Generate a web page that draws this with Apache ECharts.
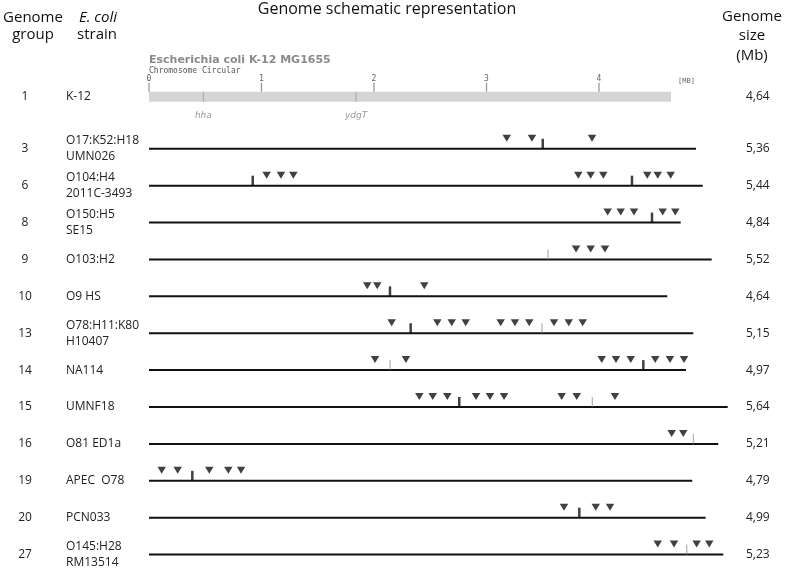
<!DOCTYPE html>
<html><head><meta charset="utf-8">
<script src="https://cdn.jsdelivr.net/npm/echarts@6/dist/echarts.min.js"></script>
<style>html,body{margin:0;padding:0;background:#fff}#c{width:787px;height:573px}</style>
</head><body><div id="c"></div><script>
// ---- data (positions in Mb on the K-12 scale) ----
const groups = ['1','3','6','8','9','10','13','14','15','16','19','20','27'];
const strains = ['K-12','O17:K52:H18\nUMN026','O104:H4\n2011C-3493','O150:H5\nSE15','O103:H2','O9 HS',
  'O78:H11:K80\nH10407','NA114','UMNF18','O81 ED1a','APEC  O78','PCN033','O145:H28\nRM13514'];
const genomeSizes = ['4,64','5,36','5,44','4,84','5,52','4,64','5,15','4,97','5,64','5,21','4,79','4,99','5,23'];
const k12Length = 4.64;
const k12Ticks = [0,1,2,3,4];
const k12Genes = ['hha','ydgT'];
const k12GenePos = [0.483, 1.840];
// schematic line length of each strain (rows after K-12)
const lineEnds = [4.862,4.922,4.726,5.002,4.607,4.838,4.773,5.144,5.060,4.829,4.948,5.105];
// inverted triangles per row
const triangles = [
  [3.180,3.404,3.938],
  [1.046,1.173,1.283,3.816,3.926,4.038,4.429,4.522,4.637],
  [4.077,4.193,4.311,4.566,4.678],
  [3.796,3.926,4.053],
  [1.940,2.029,2.447],
  [2.157,2.563,2.691,2.815,3.126,3.253,3.380,3.600,3.731,3.855],
  [2.009,2.284,4.024,4.151,4.282,4.500,4.631,4.756],
  [2.403,2.522,2.652,2.907,3.031,3.156,3.668,3.802,4.142],
  [4.646,4.749],
  [0.113,0.255,0.536,0.705,0.818],
  [3.689,3.971,4.098],
  [4.522,4.667,4.868,4.980]
];
// thick vertical marks per row
const majorMarks = [[3.500],[0.922,4.293],[4.471],[],[2.142],[2.326],[4.394],[2.758],[],[0.385],[3.825],[]];
// thin vertical marks per row
const minorMarks = [[],[],[],[3.547],[],[3.493],[2.142],[3.940],[4.838],[],[],[4.780]];

// ---- build ----
const FONT = '"Open Sans", "Noto Sans", sans-serif';
const MONO = '"DejaVu Sans Mono", "Liberation Mono", monospace';
const mainStrains = strains.slice(1);
const mainGroups = groups.slice(1);
const mainSizes = genomeSizes.slice(1);
function toPts(arr){ const out=[]; arr.forEach((r,i)=>r.forEach(x=>out.push([x,i]))); return out; }

const PX = 112.5;         // pixels per Mb (layout)
const LEFT = 149;
const MAIN_MAX = 5.2;
const K12_W = k12Length*PX;
const MAIN_W = MAIN_MAX*PX;
const MAIN_TOP = 130.35, ROW_H = 37.3;
const MAIN_H = ROW_H*mainStrains.length;

const catBase = {type:'category', inverse:true, axisLine:{show:false}, axisTick:{show:false}, splitLine:{show:false}};
const lbl = {fontFamily:FONT, fontSize:12, color:'#222'};

const option = {
  animation:false,
  backgroundColor:'#fff',
  grid:[
    {left:LEFT, top:91.7, width:K12_W, height:10},
    {left:LEFT, top:MAIN_TOP, width:MAIN_W, height:MAIN_H},
    {left:LEFT, top:91.7, width:K12_W, height:10},
    {left:LEFT, top:MAIN_TOP, width:MAIN_W, height:MAIN_H}
  ],
  xAxis:[
    {type:'value', gridIndex:0, position:'top', min:0, max:k12Length,
      axisLine:{show:false}, splitLine:{show:false}, axisTick:{show:false},
      axisLabel:{customValues:k12Ticks, margin:8.5, fontFamily:MONO, fontSize:8, color:'#666'},
      name:'[MB]', nameLocation:'end', nameGap:7,
      nameTextStyle:{fontFamily:MONO, fontSize:7, color:'#666', verticalAlign:'bottom', padding:[0,0,7,0]}},
    {type:'value', gridIndex:1, min:0, max:MAIN_MAX, show:false},
    {type:'value', gridIndex:2, show:false},
    {type:'value', gridIndex:3, show:false}
  ],
  yAxis:[
    Object.assign({}, catBase, {gridIndex:0, data:[strains[0]],
      axisLabel:Object.assign({align:'left', margin:LEFT-66}, lbl)}),
    Object.assign({}, catBase, {gridIndex:0, position:'right', data:[genomeSizes[0]],
      axisLabel:Object.assign({align:'left', margin:746-(LEFT+K12_W), padding:[3,0,0,0]}, lbl)}),
    Object.assign({}, catBase, {gridIndex:1, data:mainStrains,
      axisLabel:Object.assign({align:'left', margin:LEFT-66, lineHeight:16}, lbl)}),
    Object.assign({}, catBase, {gridIndex:1, position:'right', data:mainSizes,
      axisLabel:Object.assign({align:'left', margin:746-(LEFT+MAIN_W), padding:[5,0,0,0]}, lbl)}),
    Object.assign({}, catBase, {gridIndex:2, data:[groups[0]],
      axisLabel:Object.assign({align:'center', margin:LEFT-25}, lbl)}),
    Object.assign({}, catBase, {gridIndex:3, data:mainGroups,
      axisLabel:Object.assign({align:'center', margin:LEFT-25, padding:[0,0,6,0]}, lbl)})
  ],
  series:[
    {type:'bar', xAxisIndex:0, yAxisIndex:0, data:[k12Length], barWidth:10, silent:true,
      itemStyle:{color:'#d5d5d5'}},
    {type:'scatter', xAxisIndex:0, yAxisIndex:0, silent:true, clip:false, z:5,
      data:k12Ticks.map(v=>[v,0]),
      symbol:'rect', symbolSize:[1.3,9], symbolOffset:[0,-9.5], itemStyle:{color:'#808080'}},
    {type:'scatter', xAxisIndex:0, yAxisIndex:0, silent:true,
      data:k12GenePos.map((x,i)=>({name:k12Genes[i], value:[x,0]})),
      symbol:'rect', symbolSize:[1.2,10], itemStyle:{color:'#a5a5a5'},
      label:{show:true, position:'bottom', distance:9, formatter:p=>p.name,
        fontFamily:'"DejaVu Sans", sans-serif', fontStyle:'italic', fontSize:9, color:'#808080'}},
    {type:'bar', xAxisIndex:1, yAxisIndex:2, data:lineEnds, barWidth:2, silent:true,
      itemStyle:{color:'#111'}},
    {type:'scatter', xAxisIndex:1, yAxisIndex:2, data:toPts(triangles), silent:true,
      symbol:'triangle', symbolRotate:180, symbolSize:[8.5,7], symbolOffset:[0,-10.5],
      itemStyle:{color:'#111'}},
    {type:'scatter', xAxisIndex:1, yAxisIndex:2, data:toPts(majorMarks), silent:true,
      symbol:'rect', symbolSize:[2.5,10], symbolOffset:[0,-5], itemStyle:{color:'#111'}},
    {type:'scatter', xAxisIndex:1, yAxisIndex:2, data:toPts(minorMarks), silent:true,
      symbol:'rect', symbolSize:[1,10], symbolOffset:[0,-5], itemStyle:{color:'#888'}}
  ],
  graphic:[
    {type:'text', x:33, y:25, style:{text:'Genome', font:'15px '+FONT, fill:'#111', align:'center', verticalAlign:'bottom'}},
    {type:'text', x:33, y:42.5, style:{text:'group', font:'15px '+FONT, fill:'#111', align:'center', verticalAlign:'bottom'}},
    {type:'text', x:98, y:25, style:{text:'E. coli', font:'italic 15px '+FONT, fill:'#111', align:'center', verticalAlign:'bottom'}},
    {type:'text', x:97, y:42.5, style:{text:'strain', font:'15px '+FONT, fill:'#111', align:'center', verticalAlign:'bottom'}},
    {type:'text', x:387, y:17, style:{text:'Genome schematic representation', font:'16px '+FONT, fill:'#111', align:'center', verticalAlign:'bottom'}},
    {type:'text', x:752, y:24, style:{text:'Genome', font:'15px '+FONT, fill:'#111', align:'center', verticalAlign:'bottom'}},
    {type:'text', x:752, y:43.5, style:{text:'size', font:'15px '+FONT, fill:'#111', align:'center', verticalAlign:'bottom'}},
    {type:'text', x:752, y:63, style:{text:'(Mb)', font:'15px '+FONT, fill:'#111', align:'center', verticalAlign:'bottom'}},
    {type:'text', x:149, y:60, style:{text:'Escherichia coli K-12 MG1655', font:'bold 11px "DejaVu Sans", sans-serif', fill:'#8a8a8a', align:'left', verticalAlign:'middle'}},
    {type:'text', x:149, y:71, style:{text:'Chromosome Circular', font:'8px '+MONO, fill:'#555', align:'left', verticalAlign:'middle'}}
  ]
};
const chart = echarts.init(document.getElementById('c'), null, {renderer:'canvas'});
chart.setOption(option);
</script></body></html>
